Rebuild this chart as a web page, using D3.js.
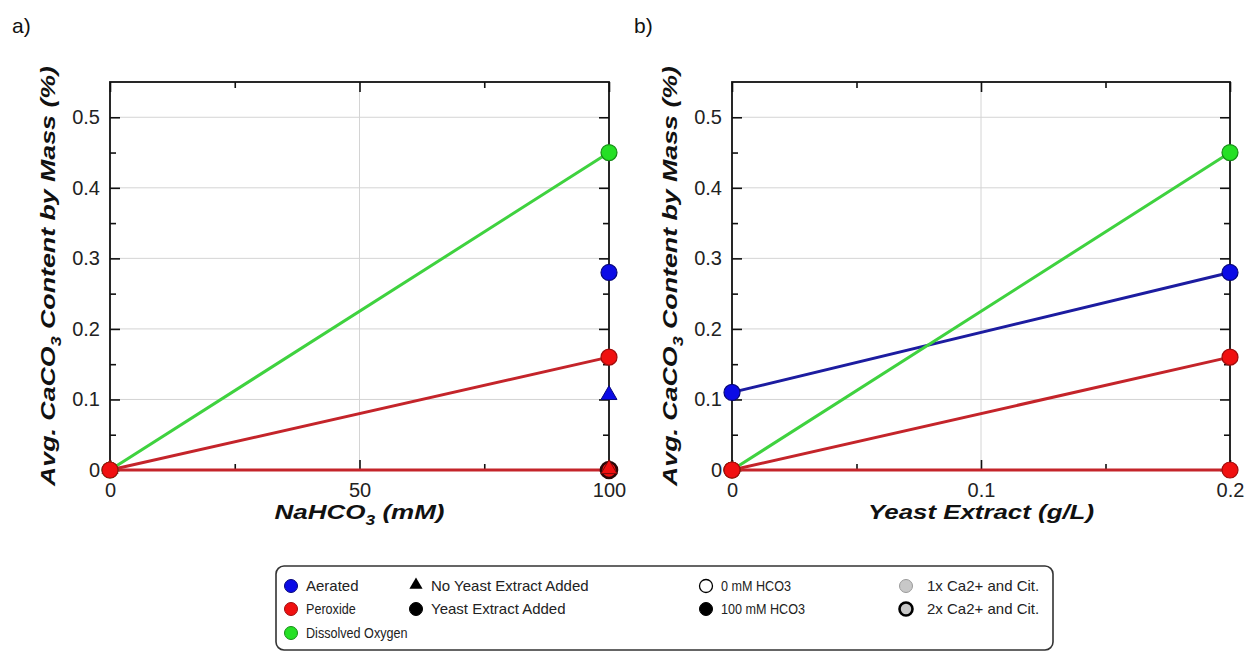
<!DOCTYPE html>
<html>
<head>
<meta charset="utf-8">
<script src="https://cdn.jsdelivr.net/npm/d3@7"></script>
<style>
  html, body { margin: 0; padding: 0; background: #fff; }
  svg { display: block; font-family: "Liberation Sans", Arial, sans-serif; }
</style>
</head>
<body>
<svg id="chart" width="1249" height="652"></svg>
<script>
// ---- data ----
const yTicks = [0, 0.1, 0.2, 0.3, 0.4, 0.5];
const yMinorTicks = [0.05, 0.15, 0.25, 0.35, 0.45];

// panel a: NaHCO3 concentration (mM)
const nahco3 = [0, 100];
const nahco3Ticks = [0, 50, 100];
const nahco3Minor = [25, 75];
const aDissolvedOxygen = [0, 0.45];
const aPeroxide = [0, 0.16];
const aPeroxideNoYeast = [0, 0];
const aAerated = [null, 0.28];
const aAeratedNoYeast = [null, 0.105];
const aPeroxide2xCa = [null, 0];

// panel b: yeast extract (g/L)
const yeast = [0, 0.2];
const yeastTicks = [0, 0.1, 0.2];
const yeastMinor = [0.05, 0.15];
const bAerated = [0.11, 0.28];
const bDissolvedOxygen = [0, 0.45];
const bPeroxide = [0, 0.16];
const bPeroxideZero = [0, 0];

// legend
const legendCol1 = ["Aerated", "Peroxide", "Dissolved Oxygen"];
const legendCol2 = ["No Yeast Extract Added", "Yeast Extract Added"];
const legendCol3 = ["0 mM HCO3", "100 mM HCO3"];
const legendCol4 = ["1x Ca2+ and Cit.", "2x Ca2+ and Cit."];

// ---- styles ----
const C = {
  blueLine: "#1c1ca0", blueFill: "#0b0be6", blueEdge: "#06067a",
  redLine: "#c4242a", redFill: "#f01010", redEdge: "#a00c0c",
  greenLine: "#3fd23f", greenFill: "#25e025", greenEdge: "#178c17",
  grid: "#d4d4d4"
};

const svg = d3.select("#chart");
const plotTop = 82, plotBottom = 470;
const y = d3.scaleLinear().domain([0, 0.55]).range([plotBottom, plotTop]);
const yFmt = d => d === 0 ? "0" : d3.format(".1f")(d);

function drawPanel(opt) {
  const g = svg.append("g");
  const x = d3.scaleLinear().domain(opt.domain).range([opt.left, opt.right]);

  // grid
  g.append("g").selectAll("line").data(yTicks.filter(t => t > 0)).join("line")
    .attr("x1", opt.left).attr("x2", opt.right)
    .attr("y1", d => y(d)).attr("y2", d => y(d))
    .attr("stroke", C.grid).attr("stroke-width", 1);
  g.append("g").selectAll("line").data(opt.ticks.slice(1, -1)).join("line")
    .attr("x1", d => x(d)).attr("x2", d => x(d))
    .attr("y1", plotTop).attr("y2", plotBottom)
    .attr("stroke", C.grid).attr("stroke-width", 1);

  // axes (ticks pointing inward on all four sides)
  const styleAxis = sel => {
    sel.select(".domain").remove();
    sel.selectAll(".tick line").attr("stroke", "#111").attr("stroke-width", 1.6);
    sel.selectAll(".tick text").attr("fill", "#222").attr("font-size", 20);
  };
  g.append("g").attr("transform", `translate(${opt.left},0)`)
    .call(d3.axisLeft(y).tickValues(yTicks).tickSize(-10).tickPadding(10).tickFormat(yFmt)).call(styleAxis);
  g.append("g").attr("transform", `translate(${opt.left},0)`)
    .call(d3.axisLeft(y).tickValues(yMinorTicks).tickSize(-6).tickFormat("")).call(styleAxis);
  g.append("g").attr("transform", `translate(${opt.right},0)`)
    .call(d3.axisRight(y).tickValues(yTicks).tickSize(-10).tickFormat("")).call(styleAxis);
  g.append("g").attr("transform", `translate(${opt.right},0)`)
    .call(d3.axisRight(y).tickValues(yMinorTicks).tickSize(-6).tickFormat("")).call(styleAxis);
  g.append("g").attr("transform", `translate(0,${plotBottom})`)
    .call(d3.axisBottom(x).tickValues(opt.ticks).tickSize(-10).tickPadding(13).tickFormat(opt.fmt)).call(styleAxis);
  g.append("g").attr("transform", `translate(0,${plotBottom})`)
    .call(d3.axisBottom(x).tickValues(opt.minor).tickSize(-6).tickFormat("")).call(styleAxis);
  g.append("g").attr("transform", `translate(0,${plotTop})`)
    .call(d3.axisTop(x).tickValues(opt.ticks).tickSize(-10).tickFormat("")).call(styleAxis);
  g.append("g").attr("transform", `translate(0,${plotTop})`)
    .call(d3.axisTop(x).tickValues(opt.minor).tickSize(-6).tickFormat("")).call(styleAxis);

  // frame
  g.append("rect").attr("x", opt.left).attr("y", plotTop)
    .attr("width", opt.right - opt.left).attr("height", plotBottom - plotTop)
    .attr("fill", "none").attr("stroke", "#111").attr("stroke-width", 1.8);

  // y title
  const yt = g.append("text")
    .attr("transform", `translate(${opt.left - 55},${(plotTop + plotBottom) / 2}) rotate(-90)`)
    .attr("text-anchor", "middle").attr("font-size", 21)
    .attr("font-weight", "bold").attr("font-style", "italic").attr("fill", "#111")
    .attr("textLength", 420).attr("lengthAdjust", "spacingAndGlyphs");
  yt.append("tspan").text("Avg. CaCO");
  yt.append("tspan").attr("font-size", 14).attr("dy", 6).text("3");
  yt.append("tspan").attr("dy", -6).text(" Content by Mass (%)");

  // x title
  const xt = g.append("text")
    .attr("x", (opt.left + opt.right) / 2).attr("y", 519)
    .attr("text-anchor", "middle").attr("font-size", 21)
    .attr("font-weight", "bold").attr("font-style", "italic").attr("fill", "#111")
    .attr("textLength", opt.xTitleLen).attr("lengthAdjust", "spacingAndGlyphs");
  opt.xTitle.forEach(p => {
    const t = xt.append("tspan").text(p.t);
    if (p.sub) t.attr("font-size", 14).attr("dy", 6);
    if (p.back) t.attr("dy", -6);
  });

  // panel label
  g.append("text").attr("x", opt.left - 98).attr("y", 33)
    .attr("font-size", 21).attr("fill", "#111").text(opt.label);

  return { g, x };
}

const pairs = (xs, ys) => xs.map((v, i) => [v, ys[i]]);
const lineGen = x => d3.line().defined(d => d[1] !== null).x(d => x(d[0])).y(d => y(d[1]));

function drawLine(g, x, xs, ys, color) {
  g.append("path").datum(pairs(xs, ys)).attr("d", lineGen(x))
    .attr("fill", "none").attr("stroke", color).attr("stroke-width", 3)
    .attr("stroke-linecap", "round");
}
function drawCircles(g, x, xs, ys, fill, edge, sw = 1.2, r = 8) {
  g.append("g").selectAll("circle").data(pairs(xs, ys).filter(d => d[1] !== null)).join("circle")
    .attr("cx", d => x(d[0])).attr("cy", d => y(d[1])).attr("r", r)
    .attr("fill", fill).attr("stroke", edge).attr("stroke-width", sw);
}
const tri = d3.symbol().type(d3.symbolTriangle).size(110);
function drawTriangles(g, x, xs, ys, fill, edge) {
  g.append("g").selectAll("path").data(pairs(xs, ys).filter(d => d[1] !== null)).join("path")
    .attr("transform", d => `translate(${x(d[0])},${y(d[1]) - 1})`)
    .attr("d", tri).attr("fill", fill).attr("stroke", edge).attr("stroke-width", 1);
}

// ---- panel a ----
const A = drawPanel({
  left: 110, right: 609, domain: [0, 100], ticks: nahco3Ticks, minor: nahco3Minor,
  fmt: d3.format("d"), label: "a)", xTitleLen: 170,
  xTitle: [{ t: "NaHCO" }, { t: "3", sub: true }, { t: " (mM)", back: true }]
});
drawLine(A.g, A.x, nahco3, aDissolvedOxygen, C.greenLine);
drawLine(A.g, A.x, nahco3, aPeroxide, C.redLine);
drawLine(A.g, A.x, nahco3, aPeroxideNoYeast, C.redLine);
drawCircles(A.g, A.x, nahco3, aAerated, C.blueFill, C.blueEdge);
drawTriangles(A.g, A.x, nahco3, aAeratedNoYeast, C.blueFill, C.blueEdge);
drawCircles(A.g, A.x, nahco3, aPeroxide2xCa, C.redFill, "#2a0808", 2.6);
drawTriangles(A.g, A.x, nahco3, aPeroxideNoYeast, C.redFill, "#7a0a0a");
drawCircles(A.g, A.x, nahco3, aDissolvedOxygen, C.greenFill, C.greenEdge);
drawCircles(A.g, A.x, nahco3, aPeroxide, C.redFill, C.redEdge);

// ---- panel b ----
const B = drawPanel({
  left: 732, right: 1230, domain: [0, 0.2], ticks: yeastTicks, minor: yeastMinor,
  fmt: d => d === 0 ? "0" : d3.format(".1f")(d), label: "b)", xTitleLen: 226,
  xTitle: [{ t: "Yeast Extract (g/L)" }]
});
drawLine(B.g, B.x, yeast, bAerated, C.blueLine);
drawLine(B.g, B.x, yeast, bDissolvedOxygen, C.greenLine);
drawLine(B.g, B.x, yeast, bPeroxide, C.redLine);
drawLine(B.g, B.x, yeast, bPeroxideZero, C.redLine);
drawCircles(B.g, B.x, yeast, bAerated, C.blueFill, C.blueEdge);
drawCircles(B.g, B.x, yeast, bDissolvedOxygen, C.greenFill, C.greenEdge);
drawCircles(B.g, B.x, yeast, bPeroxide, C.redFill, C.redEdge);
drawCircles(B.g, B.x, yeast, bPeroxideZero, C.redFill, C.redEdge);

// ---- legend ----
const L = svg.append("g");
L.append("rect").attr("x", 276).attr("y", 566).attr("width", 777).attr("height", 84)
  .attr("rx", 8).attr("fill", "#fff").attr("stroke", "#333").attr("stroke-width", 1.6);
const rowY = [586, 609, 633];
// narrow = condensed lettering used for a few of the entries
const legText = (x, yy, t, narrow = false) => {
  const el = L.append("text").attr("x", x).attr("y", yy + 5)
    .attr("font-size", 15).attr("fill", "#222").text(t);
  if (narrow) {
    const w = el.node().getComputedTextLength();
    el.attr("textLength", w * 0.84).attr("lengthAdjust", "spacingAndGlyphs");
  }
  return el;
};
const legDot = (x, yy, fill, edge, sw = 1) => L.append("circle").attr("cx", x).attr("cy", yy)
  .attr("r", 6.5).attr("fill", fill).attr("stroke", edge).attr("stroke-width", sw);

const col1Style = [[C.blueFill, C.blueEdge], [C.redFill, C.redEdge], [C.greenFill, C.greenEdge]];
legendCol1.forEach((t, i) => { legDot(291, rowY[i], ...col1Style[i]); legText(306, rowY[i], t, i > 0); });

L.append("path").attr("transform", `translate(416,${rowY[0] - 1})`)
  .attr("d", d3.symbol().type(d3.symbolTriangle).size(75)).attr("fill", "#000");
legDot(416, rowY[1], "#000", "#000");
legendCol2.forEach((t, i) => legText(431, rowY[i], t));

legDot(706, rowY[0], "#fff", "#000", 1.3);
legDot(706, rowY[1], "#000", "#000");
legendCol3.forEach((t, i) => legText(721, rowY[i], t, true));

legDot(906, rowY[0], "#c8c8c8", "#9a9a9a", 1);
legDot(906, rowY[1], "#c8c8c8", "#000", 2.6);
legendCol4.forEach((t, i) => legText(927, rowY[i], t));
</script>
</body>
</html>
